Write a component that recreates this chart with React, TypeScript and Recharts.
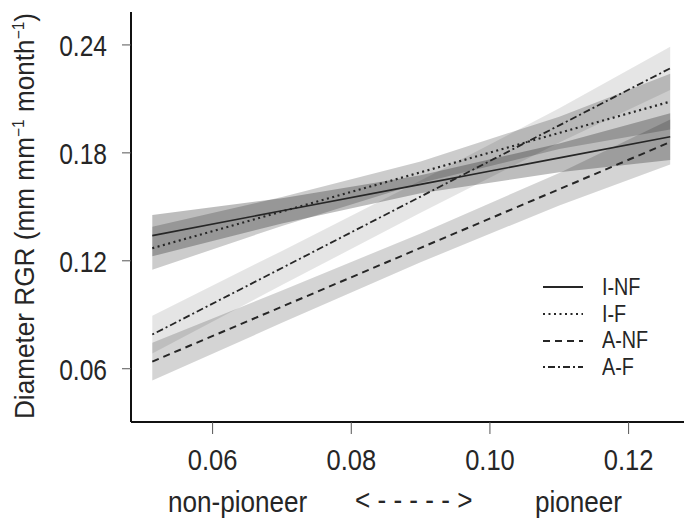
import React from "react";
import { Area, ComposedChart, Legend, Line, XAxis, YAxis } from "recharts";

const xs = [0.0513, 0.07, 0.09, 0.11, 0.126];

// fitted lines
const iNf = [0.134, 0.1478, 0.1625, 0.1772, 0.189];
const iF = [0.127, 0.1474, 0.1692, 0.1911, 0.2085];
const aNf = [0.064, 0.0945, 0.1272, 0.1598, 0.186];
const aF = [0.079, 0.116, 0.1557, 0.1953, 0.227];

// confidence bands (lower / upper)
const iNfLo = [0.1225, 0.1408, 0.1575, 0.1692, 0.176];
const iNfHi = [0.1455, 0.1548, 0.1675, 0.1852, 0.202];
const iFLo = [0.115, 0.1394, 0.1632, 0.1821, 0.193];
const iFHi = [0.139, 0.1554, 0.1752, 0.2001, 0.224];
const aNfLo = [0.0535, 0.0855, 0.1192, 0.1508, 0.1735];
const aNfHi = [0.0745, 0.1035, 0.1352, 0.1688, 0.1985];
const aFLo = [0.0685, 0.1065, 0.1467, 0.1858, 0.215];
const aFHi = [0.0895, 0.1255, 0.1647, 0.2048, 0.239];

const xTicks = [0.06, 0.08, 0.1, 0.12];
const yTicks = [0.06, 0.12, 0.18, 0.24];

const legendItems = [
  { name: "I-NF", dash: undefined },
  { name: "I-F", dash: "2 3.5" },
  { name: "A-NF", dash: "7 5" },
  { name: "A-F", dash: "2 3 7 3" },
];

const data = xs.map((x, i) => ({
  x,
  iNf: iNf[i],
  iF: iF[i],
  aNf: aNf[i],
  aF: aF[i],
  iNfBand: [iNfLo[i], iNfHi[i]],
  iFBand: [iFLo[i], iFHi[i]],
  aNfBand: [aNfLo[i], aNfHi[i]],
  aFBand: [aFLo[i], aFHi[i]],
}));

const font = "'Liberation Sans', Arial, sans-serif";
const ink = "#262626";

function XTick({ x, y, payload }: any) {
  return (
    <text transform={`translate(${x},${y + 34}) scale(0.85,1)`} textAnchor="middle" fontSize={30} fontFamily={font} fill={ink}>
      {payload.value.toFixed(2)}
    </text>
  );
}

function YTick({ x, y, payload }: any) {
  return (
    <text transform={`translate(${x - 13},${y + 11}) scale(0.82,1)`} textAnchor="end" fontSize={30} fontFamily={font} fill={ink}>
      {payload.value.toFixed(2)}
    </text>
  );
}

function YLabel() {
  return (
    <text transform="translate(34,216) rotate(-90) scale(0.97,1)" textAnchor="middle" fontSize={27} fontFamily={font} fill={ink}>
      Diameter RGR (mm mm
      <tspan dy={-10} fontSize={16}>−1</tspan>
      <tspan dy={10}> month</tspan>
      <tspan dy={-10} fontSize={16}>−1</tspan>
      <tspan dy={10}>)</tspan>
    </text>
  );
}

function XLabel() {
  return (
    <g fontFamily={font} fontSize={30} fill={ink}>
      <text transform="translate(168,512) scale(0.87,1)">non-pioneer</text>
      <text transform="translate(355,510) scale(0.87,1)">{"< - - - - - >"}</text>
      <text transform="translate(535,512) scale(0.87,1)">pioneer</text>
    </g>
  );
}

function LegendBox() {
  return (
    <div style={{ fontFamily: font, fontSize: 23, color: ink }}>
      {legendItems.map((it) => (
        <div key={it.name} style={{ display: "flex", alignItems: "center", height: 26.7 }}>
          <svg width={61} height={20}>
            <line x1={2} y1={10} x2={42} y2={10} stroke={ink} strokeWidth={1.8} strokeDasharray={it.dash} />
          </svg>
          <span style={{ display: "inline-block", transform: "scaleX(0.86)", transformOrigin: "left center" }}>{it.name}</span>
        </div>
      ))}
    </div>
  );
}

export default function App() {
  return (
    <div>
      <style>{`body{margin:0;background:#fff}`}</style>
      <ComposedChart width={684} height={520} data={data} margin={{ top: 12, right: 0, left: 0, bottom: 0 }}>
        <XAxis
          dataKey="x"
          type="number"
          domain={[0.04823, 0.12799]}
          ticks={xTicks}
          height={98}
          axisLine={{ stroke: "#111", strokeWidth: 2 }}
          tickLine={{ stroke: "#555" }}
          tickSize={12}
          tick={<XTick />}
          allowDataOverflow
          label={<XLabel />}
        />
        <YAxis
          type="number"
          domain={[0.0304, 0.2583]}
          ticks={yTicks}
          width={131}
          axisLine={{ stroke: "#111", strokeWidth: 2 }}
          tickLine={{ stroke: "#555" }}
          tickSize={9}
          tick={<YTick />}
          allowDataOverflow
          label={<YLabel />}
        />
        <Area dataKey="aFBand" type="linear" stroke="none" fill="#000" fillOpacity={0.1} isAnimationActive={false} />
        <Area dataKey="aNfBand" type="linear" stroke="none" fill="#000" fillOpacity={0.17} isAnimationActive={false} />
        <Area dataKey="iFBand" type="linear" stroke="none" fill="#000" fillOpacity={0.2} isAnimationActive={false} />
        <Area dataKey="iNfBand" type="linear" stroke="none" fill="#000" fillOpacity={0.26} isAnimationActive={false} />
        <Line dataKey="iNf" type="linear" stroke={ink} strokeWidth={1.6} dot={false} isAnimationActive={false} />
        <Line dataKey="iF" type="linear" stroke={ink} strokeWidth={2.2} strokeDasharray="2 3.5" dot={false} isAnimationActive={false} />
        <Line dataKey="aNf" type="linear" stroke={ink} strokeWidth={2} strokeDasharray="7 5" dot={false} isAnimationActive={false} />
        <Line dataKey="aF" type="linear" stroke={ink} strokeWidth={1.8} strokeDasharray="2 3 7 3" dot={false} isAnimationActive={false} />
        <Legend
          layout="vertical"
          align="center"
          verticalAlign="middle"
          content={<LegendBox />}
          wrapperStyle={{ left: 541, top: 274, width: 140 }}
        />
      </ComposedChart>
    </div>
  );
}
